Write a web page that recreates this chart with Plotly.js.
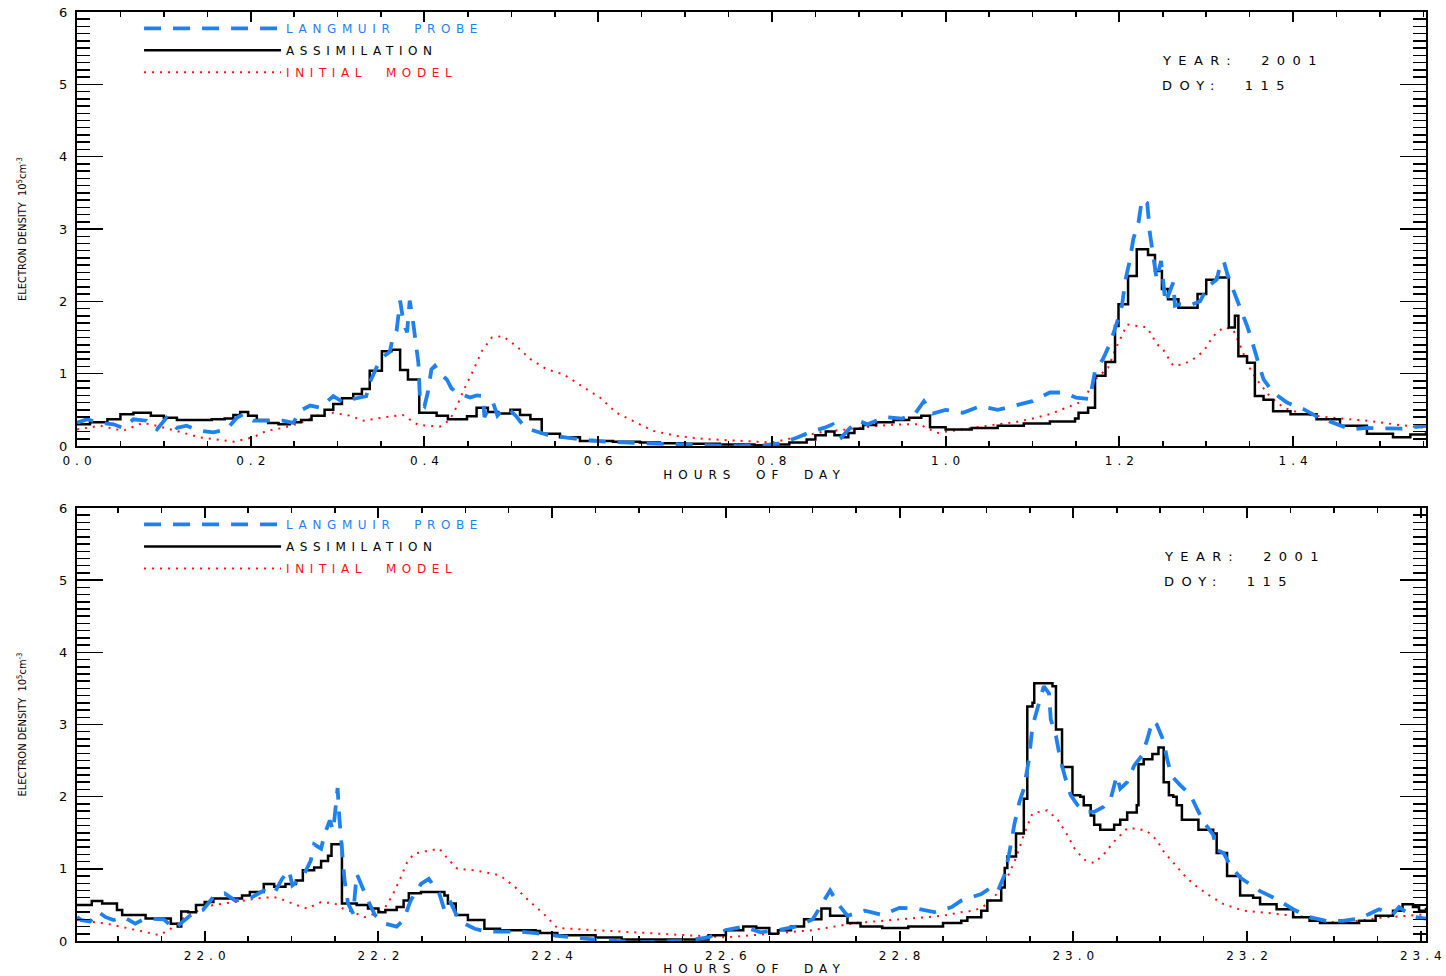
<!DOCTYPE html>
<html>
<head>
<meta charset="utf-8">
<script src="https://cdn.plot.ly/plotly-3.0.1.min.js"></script>
<style>
html,body{margin:0;padding:0;background:#fff;}
#chart{width:1446px;height:976px;}
/* wide letter spacing of the original plotting font (style only) */
text.legendtext,
text[data-unformatted*="PROBE"],
text[data-unformatted*="ASSIMILATION"],
text[data-unformatted*="MODEL"]{letter-spacing:5.6px;}
text.annotation-text,
text[data-unformatted*="YEAR"],
text[data-unformatted*="DOY"]{letter-spacing:7.4px;}
text.xtitle, text.x2title,
text[data-unformatted*="HOURS"]{letter-spacing:6px;}
g.xtick text, g.x2tick text{letter-spacing:5px;}
</style>
</head>
<body>
<div id="chart"></div>
<script>
// ---------- TOP PANEL (hours 0.0 - 1.55) ----------
const topLpHours = [0.000,0.0115,0.0265,0.042,0.053,0.065,0.080,0.092,0.103,0.115,0.126,0.142,0.157,0.172,0.184,0.1915,0.203,0.218,0.237,0.249,0.257,0.2685,0.280,0.295,0.307,0.318,0.333,0.337,0.345,0.353,0.360,0.364,0.368,0.372,0.376,0.380,0.383,0.386,0.389,0.393,0.395,0.400,0.404,0.408,0.412,0.418,0.4257,0.431,0.437,0.445,0.4525,0.460,0.4675,0.469,0.473,0.479,0.484,0.490,0.495,0.500,0.505,0.513,0.5216,0.540,0.564,0.590,0.610,0.650,0.670,0.700,0.730,0.760,0.790,0.810,0.830,0.845,0.860,0.870,0.880,0.890,0.900,0.910,0.930,0.950,0.965,0.975,0.985,1.000,1.020,1.040,1.060,1.080,1.100,1.110,1.120,1.135,1.150,1.166,1.172,1.181,1.189,1.196,1.203,1.207,1.212,1.216,1.222,1.226,1.232,1.234,1.235,1.243,1.248,1.253,1.262,1.264,1.270,1.280,1.293,1.302,1.312,1.316,1.320,1.325,1.331,1.337,1.341,1.347,1.351,1.354,1.360,1.366,1.377,1.393,1.412,1.427,1.450,1.466,1.485,1.504,1.525,1.553];
const topLp = [0.32,0.37,0.32,0.30,0.25,0.37,0.35,0.23,0.39,0.25,0.28,0.21,0.19,0.23,0.39,0.44,0.35,0.35,0.35,0.32,0.49,0.56,0.53,0.69,0.60,0.65,0.69,0.88,1.09,1.24,1.30,1.52,1.60,2.01,1.70,1.57,2.01,1.80,1.53,1.15,0.60,0.55,0.75,1.06,1.11,1.00,0.92,0.80,0.74,0.70,0.67,0.70,0.69,0.40,0.50,0.60,0.42,0.50,0.51,0.48,0.42,0.30,0.23,0.16,0.115,0.08,0.06,0.04,0.03,0.02,0.01,0.00,0.01,0.04,0.12,0.20,0.25,0.30,0.12,0.25,0.35,0.30,0.40,0.38,0.45,0.62,0.45,0.50,0.46,0.55,0.50,0.56,0.62,0.68,0.74,0.74,0.67,0.65,1.04,1.20,1.41,1.66,1.94,2.30,2.56,2.86,3.09,3.41,3.36,3.11,2.95,2.30,2.56,1.98,2.26,1.94,1.96,1.94,2.00,2.21,2.30,2.49,2.56,2.35,2.17,1.98,1.84,1.66,1.52,1.38,1.15,0.92,0.74,0.60,0.51,0.41,0.30,0.23,0.25,0.25,0.24,0.28];

const topAsmHours = [0.000,0.015,0.035,0.050,0.065,0.085,0.100,0.115,0.135,0.155,0.170,0.180,0.188,0.197,0.207,0.220,0.232,0.245,0.258,0.270,0.285,0.295,0.305,0.318,0.328,0.337,0.351,0.362,0.372,0.381,0.394,0.414,0.427,0.449,0.460,0.473,0.485,0.499,0.510,0.522,0.535,0.556,0.579,0.617,0.648,0.671,0.700,0.740,0.780,0.800,0.820,0.840,0.850,0.862,0.872,0.882,0.888,0.895,0.905,0.920,0.940,0.958,0.972,0.982,1.000,1.030,1.060,1.090,1.120,1.149,1.153,1.164,1.172,1.184,1.195,1.199,1.210,1.220,1.233,1.241,1.249,1.256,1.268,1.290,1.300,1.312,1.326,1.333,1.337,1.347,1.356,1.366,1.377,1.397,1.427,1.454,1.485,1.515,1.535,1.553];
const topAsm = [0.30,0.33,0.37,0.44,0.46,0.42,0.39,0.36,0.36,0.37,0.38,0.43,0.47,0.42,0.36,0.32,0.30,0.33,0.36,0.42,0.50,0.58,0.66,0.72,0.79,1.04,1.31,1.33,1.05,0.92,0.46,0.42,0.37,0.41,0.53,0.47,0.45,0.50,0.43,0.37,0.17,0.12,0.07,0.06,0.05,0.04,0.03,0.02,0.01,0.02,0.05,0.09,0.15,0.20,0.15,0.12,0.18,0.24,0.29,0.33,0.36,0.39,0.42,0.26,0.23,0.25,0.28,0.31,0.34,0.38,0.46,0.53,0.97,1.16,1.66,1.96,2.35,2.72,2.64,2.42,2.17,2.03,1.91,2.10,2.30,2.33,1.64,1.80,1.24,1.15,0.69,0.64,0.48,0.44,0.37,0.28,0.17,0.12,0.16,0.19];

const topModelHours = [0.000,0.0265,0.053,0.076,0.092,0.122,0.142,0.161,0.180,0.203,0.218,0.237,0.257,0.276,0.295,0.314,0.330,0.355,0.375,0.393,0.418,0.429,0.437,0.445,0.456,0.466,0.4775,0.490,0.506,0.522,0.541,0.560,0.579,0.602,0.621,0.644,0.663,0.690,0.720,0.750,0.780,0.800,0.820,0.840,0.860,0.880,0.900,0.920,0.950,0.970,0.990,1.000,1.030,1.060,1.080,1.100,1.120,1.158,1.172,1.187,1.197,1.209,1.220,1.232,1.243,1.250,1.262,1.274,1.285,1.297,1.308,1.320,1.331,1.339,1.350,1.358,1.373,1.389,1.412,1.446,1.485,1.523,1.553];
const topModel = [0.23,0.28,0.21,0.32,0.28,0.18,0.12,0.09,0.06,0.12,0.21,0.25,0.32,0.42,0.46,0.42,0.35,0.40,0.43,0.29,0.27,0.36,0.54,0.77,1.04,1.31,1.50,1.52,1.38,1.20,1.06,0.99,0.85,0.67,0.46,0.32,0.21,0.14,0.10,0.08,0.06,0.05,0.10,0.15,0.20,0.22,0.25,0.28,0.30,0.30,0.18,0.20,0.25,0.30,0.33,0.38,0.44,0.62,0.92,1.08,1.38,1.68,1.66,1.64,1.41,1.34,1.11,1.13,1.20,1.31,1.52,1.64,1.61,1.38,1.08,0.92,0.69,0.53,0.44,0.39,0.35,0.29,0.25];

// ---------- BOTTOM PANEL (hours 21.85 - 23.41) ----------
const botLpHours = [21.853,21.858,21.868,21.878,21.886,21.895,21.907,21.920,21.928,21.936,21.953,21.965,21.977,21.986,21.998,22.010,22.023,22.035,22.052,22.068,22.080,22.089,22.097,22.101,22.113,22.122,22.126,22.134,22.138,22.144,22.148,22.151,22.153,22.155,22.158,22.161,22.165,22.171,22.175,22.181,22.188,22.196,22.208,22.221,22.229,22.237,22.249,22.258,22.270,22.276,22.282,22.289,22.299,22.311,22.324,22.361,22.381,22.406,22.45,22.50,22.55,22.58,22.60,22.62,22.64,22.66,22.68,22.70,22.715,22.72,22.73,22.74,22.76,22.78,22.80,22.82,22.84,22.86,22.871,22.882,22.894,22.905,22.913,22.921,22.926,22.932,22.938,22.943,22.949,22.953,22.961,22.966,22.972,22.974,22.980,22.985,22.991,22.997,23.005,23.014,23.024,23.035,23.043,23.050,23.054,23.062,23.070,23.079,23.085,23.091,23.096,23.100,23.104,23.108,23.113,23.123,23.135,23.142,23.150,23.161,23.165,23.173,23.180,23.192,23.203,23.215,23.234,23.253,23.272,23.291,23.310,23.329,23.340,23.352,23.368,23.375,23.383,23.394,23.406];
const botLp = [0.33,0.29,0.27,0.40,0.33,0.29,0.33,0.24,0.29,0.31,0.30,0.17,0.29,0.38,0.43,0.61,0.66,0.56,0.59,0.70,0.66,0.86,0.98,0.77,0.89,1.11,1.34,1.28,1.48,1.67,1.53,1.89,2.12,1.71,1.30,0.84,0.52,0.38,0.93,0.75,0.56,0.36,0.24,0.20,0.29,0.56,0.79,0.86,0.66,0.43,0.56,0.38,0.24,0.17,0.13,0.13,0.11,0.07,0.02,-0.02,0.00,0.05,0.15,0.20,0.12,0.15,0.20,0.30,0.62,0.70,0.50,0.35,0.42,0.36,0.46,0.45,0.40,0.47,0.56,0.60,0.65,0.74,0.69,0.92,1.20,1.61,1.93,2.11,2.52,2.98,3.34,3.53,3.43,3.07,2.84,2.52,2.25,2.02,1.88,1.79,1.79,1.86,1.97,2.29,2.11,2.20,2.43,2.57,2.79,3.05,3.00,2.89,2.77,2.52,2.29,2.16,2.02,1.84,1.65,1.47,1.26,1.22,1.06,0.88,0.79,0.69,0.58,0.44,0.33,0.28,0.28,0.31,0.37,0.44,0.37,0.47,0.40,0.33,0.31];

const botAsmHours = [21.853,21.870,21.882,21.899,21.905,21.924,21.932,21.957,21.961,21.969,21.973,21.981,21.990,22.000,22.010,22.027,22.043,22.052,22.068,22.080,22.093,22.105,22.113,22.126,22.134,22.142,22.146,22.158,22.175,22.188,22.200,22.208,22.221,22.229,22.235,22.249,22.266,22.276,22.280,22.289,22.303,22.322,22.340,22.381,22.386,22.406,22.45,22.48,22.57,22.58,22.60,22.62,22.635,22.65,22.66,22.675,22.69,22.71,22.72,22.74,22.755,22.78,22.81,22.85,22.871,22.878,22.894,22.901,22.917,22.921,22.924,22.934,22.943,22.947,22.953,22.955,22.976,22.980,22.987,22.999,23.008,23.012,23.020,23.024,23.031,23.047,23.054,23.062,23.073,23.075,23.081,23.091,23.098,23.104,23.110,23.115,23.119,23.125,23.144,23.161,23.165,23.177,23.192,23.207,23.215,23.234,23.253,23.272,23.284,23.310,23.329,23.348,23.368,23.379,23.391,23.398,23.406];
const botAsm = [0.50,0.555,0.52,0.43,0.36,0.36,0.31,0.31,0.24,0.20,0.41,0.40,0.50,0.54,0.59,0.59,0.63,0.68,0.79,0.75,0.79,0.84,0.98,1.02,1.11,1.18,1.34,0.52,0.50,0.45,0.40,0.43,0.47,0.56,0.66,0.68,0.68,0.63,0.52,0.36,0.29,0.17,0.15,0.14,0.11,0.08,0.05,0.02,0.02,0.08,0.15,0.20,0.18,0.10,0.15,0.20,0.30,0.45,0.35,0.25,0.20,0.18,0.20,0.25,0.28,0.33,0.42,0.56,0.74,1.01,1.17,1.49,1.97,3.25,3.30,3.57,3.53,2.93,2.41,2.02,2.00,1.88,1.74,1.61,1.54,1.61,1.68,1.78,1.88,2.45,2.52,2.59,2.68,2.20,2.02,2.00,1.88,1.68,1.54,1.49,1.22,0.90,0.63,0.60,0.51,0.44,0.33,0.28,0.25,0.25,0.28,0.35,0.42,0.51,0.47,0.42,0.46];

const botModelHours = [21.853,21.870,21.887,21.903,21.915,21.928,21.948,21.961,21.977,21.994,22.010,22.035,22.060,22.080,22.093,22.105,22.118,22.134,22.150,22.159,22.171,22.184,22.196,22.208,22.216,22.225,22.233,22.241,22.258,22.270,22.282,22.291,22.311,22.340,22.357,22.373,22.390,22.406,22.45,22.50,22.55,22.60,22.65,22.70,22.75,22.80,22.85,22.871,22.886,22.901,22.913,22.924,22.934,22.943,22.953,22.970,22.982,22.993,23.001,23.012,23.024,23.035,23.047,23.062,23.073,23.085,23.096,23.104,23.115,23.127,23.138,23.154,23.173,23.196,23.215,23.234,23.253,23.272,23.291,23.310,23.329,23.352,23.380,23.406];
const botModel = [0.29,0.27,0.24,0.20,0.17,0.13,0.08,0.17,0.33,0.43,0.50,0.54,0.59,0.61,0.56,0.50,0.45,0.54,0.52,0.45,0.40,0.33,0.38,0.47,0.63,0.86,1.09,1.21,1.25,1.28,1.11,1.00,0.98,0.91,0.75,0.56,0.38,0.18,0.15,0.12,0.08,0.05,0.10,0.15,0.25,0.30,0.35,0.40,0.42,0.51,0.67,0.88,1.15,1.47,1.77,1.81,1.68,1.47,1.29,1.13,1.08,1.20,1.38,1.56,1.56,1.52,1.40,1.24,1.08,0.92,0.79,0.65,0.51,0.42,0.40,0.37,0.35,0.33,0.26,0.26,0.28,0.32,0.35,0.37];

// ---------- text ----------
const seriesNames = ['LANGMUIR\u00a0\u00a0PROBE', 'ASSIMILATION', 'INITIAL\u00a0\u00a0MODEL'];
const yTitle = 'ELECTRON DENSITY\u00a0\u00a010<sup>5</sup>cm<sup>-3</sup>';
const xTitle = 'HOURS\u00a0\u00a0OF\u00a0\u00a0DAY';
const yearText = 'YEAR:\u00a0\u00a02001';
const doyText = 'DOY:\u00a0\u00a0115';

const BLUE = '#1f80f0', RED = '#ff1010', BLACK = '#000000';

function panel(xa, ya, lg, lpX, lpY, asX, asY, mdX, mdY) {
  return [
    {x: mdX, y: mdY, xaxis: xa, yaxis: ya, legend: lg, mode: 'lines', legendrank: 3, legendgroup: lg + 'c',
     name: '<span style="color:' + RED + '">' + seriesNames[2] + '</span>',
     line: {color: RED, width: 2, dash: '2px,6px'}, hoverinfo: 'skip'},
    {x: asX, y: asY, xaxis: xa, yaxis: ya, legend: lg, mode: 'lines', legendrank: 2, legendgroup: lg + 'b',
     name: '<span style="color:' + BLACK + '">' + seriesNames[1] + '</span>',
     line: {color: BLACK, width: 2.5, shape: 'hv'}, hoverinfo: 'skip'},
    {x: lpX, y: lpY, xaxis: xa, yaxis: ya, legend: lg, mode: 'lines', legendrank: 1, legendgroup: lg + 'a',
     name: '<span style="color:' + BLUE + '">' + seriesNames[0] + '</span>',
     line: {color: BLUE, width: 3.8, dash: '17px,12px'}, hoverinfo: 'skip'}
  ];
}

const data = [].concat(
  panel('x', 'y', 'legend', topLpHours, topLp, topAsmHours, topAsm, topModelHours, topModel),
  panel('x2', 'y2', 'legend2', botLpHours, botLp, botAsmHours, botAsm, botModelHours, botModel)
);

const tickFont = {family: 'DejaVu Sans, Liberation Sans, Arial, sans-serif', size: 12, color: '#000'};
function xAxis(range, anchor) {
  return {
    range: range, anchor: anchor, showgrid: false, zeroline: false,
    showline: true, linecolor: '#000', linewidth: 2, mirror: 'ticks',
    ticks: 'inside', ticklen: 10, tickwidth: 2, tickcolor: '#000',
    dtick: 0.2, tick0: 0, tickformat: '.1f', tickfont: tickFont, ticklabelstandoff: 3,
    minor: {dtick: 0.05, tick0: 0, ticks: 'inside', ticklen: 5, tickwidth: 1.5, tickcolor: '#000', showgrid: false},
    title: {text: xTitle, standoff: 0, font: {family: 'DejaVu Sans, Arial, sans-serif', size: 12, color: '#000'}},
    automargin: false
  };
}
function yAxis(domain, anchor) {
  return {
    domain: domain, anchor: anchor, range: [0, 6], showgrid: false, zeroline: false,
    showline: true, linecolor: '#000', linewidth: 2, mirror: 'ticks',
    ticks: 'inside', ticklen: 26, tickwidth: 1.5, tickcolor: '#000',
    dtick: 1, tick0: 0, tickfont: {family: tickFont.family, size: 13, color: '#000'}, ticklabelstandoff: 5,
    minor: {dtick: 0.1, tick0: 0, ticks: 'inside', ticklen: 13, tickwidth: 1.5, tickcolor: '#000', showgrid: false},
    title: {text: yTitle, standoff: 30, font: {family: 'Liberation Sans Narrow, DejaVu Sans Condensed, Arial Narrow, sans-serif', size: 11, color: '#000'}},
    automargin: false
  };
}

const legendFont = {family: 'DejaVu Sans, Liberation Sans, Arial, sans-serif', size: 12, color: '#000'};
function legendAt(y) {
  return {x: 0.046, y: y, xref: 'paper', yref: 'paper', xanchor: 'left', yanchor: 'top',
    bgcolor: 'rgba(0,0,0,0)', borderwidth: 0, itemwidth: 137, font: legendFont,
    tracegroupgap: 3, traceorder: 'grouped', itemclick: false, itemdoubleclick: false};
}

const annFont = {family: 'DejaVu Sans, Liberation Sans, Arial, sans-serif', size: 13, color: '#000'};
const layout = {
  width: 1446, height: 976,
  margin: {l: 77, r: 20, t: 12, b: 35},
  paper_bgcolor: '#fff', plot_bgcolor: '#fff',
  showlegend: true,
  font: {family: 'DejaVu Sans, Arial, sans-serif', size: 13, color: '#000'},
  xaxis: xAxis([0, 1.553], 'y'),
  yaxis: yAxis([0.5328, 1], 'x'),
  xaxis2: xAxis([21.853, 23.406], 'y2'),
  yaxis2: yAxis([0, 0.4661], 'x2'),
  legend: legendAt(0.998),
  legend2: legendAt(0.464),
  annotations: [
    {text: yearText, xref: 'paper', yref: 'paper', x: 0.8028, y: 0.9483, xanchor: 'left', yanchor: 'middle', showarrow: false, font: annFont},
    {text: doyText, xref: 'paper', yref: 'paper', x: 0.8028, y: 0.9214, xanchor: 'left', yanchor: 'middle', showarrow: false, font: annFont},
    {text: yearText, xref: 'paper', yref: 'paper', x: 0.8043, y: 0.4144, xanchor: 'left', yanchor: 'middle', showarrow: false, font: annFont},
    {text: doyText, xref: 'paper', yref: 'paper', x: 0.8043, y: 0.3875, xanchor: 'left', yanchor: 'middle', showarrow: false, font: annFont}
  ]
};

Plotly.newPlot('chart', data, layout, {staticPlot: true, displayModeBar: false}).then(function (gd) {
  // re-centre spaced tick labels and axis titles (letter-spacing adds a trailing gap)
  gd.querySelectorAll('g.xtick text, g.x2tick text').forEach(t => t.setAttribute('dx', '2.5'));
  gd.querySelectorAll('text.xtitle, text.x2title').forEach(t => t.setAttribute('dx', '3'));
});
</script>
</body>
</html>
